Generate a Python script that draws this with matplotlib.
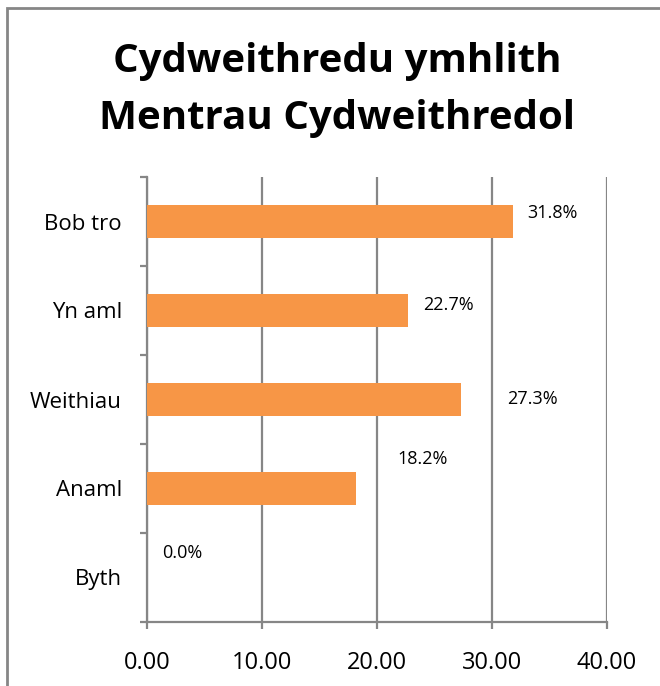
import matplotlib
matplotlib.use("Agg")
import matplotlib.pyplot as plt
from matplotlib.patches import Rectangle

categories = ["Bob tro", "Yn aml", "Weithiau", "Anaml", "Byth"]
values = [31.8, 22.7, 27.3, 18.2, 0.0]
xticks = [0, 10, 20, 30, 40]
title = "Cydweithredu ymhlith\nMentrau Cydweithredol"

# label offsets (pixels) mimicking Excel placement
label_offsets = [(15, 9), (15, 6), (46, 0), (41, 30), (15, 24)]

plt.rcParams['font.family'] = ['Open Sans', 'DejaVu Sans']

W, H = 660, 686
fig = plt.figure(figsize=(W / 100, H / 100), dpi=100)
ax = fig.add_axes([147 / W, 1 - 622 / H, 460 / W, 445 / H])

grid_c = "#868686"
bar_c = "#F79646"

ypos = list(range(len(categories)))
ax.barh(ypos, values, height=0.38, color=bar_c, zorder=3)
ax.set_ylim(len(categories) - 0.5, -0.5)
ax.set_xlim(0, 40)

ax.set_xticks(xticks)
ax.set_xticklabels([f"{v:.2f}" for v in xticks], fontsize=17)
ax.set_yticks(ypos)
ax.set_yticklabels(categories, fontsize=16)
ax.set_yticks([i - 0.5 for i in range(len(categories) + 1)], minor=True)
ax.tick_params(axis='y', which='major', length=0, pad=18)
ax.tick_params(axis='y', which='minor', length=5, width=1.6, color=grid_c)
ax.tick_params(axis='x', which='major', length=5, width=1.6, color=grid_c, pad=16)

ax.grid(axis='x', color=grid_c, linewidth=1.6, zorder=0)
for s in ['top', 'right']:
    ax.spines[s].set_visible(False)
for s in ['left', 'bottom']:
    ax.spines[s].set_color(grid_c)
    ax.spines[s].set_linewidth(1.6)

for i, (v, off) in enumerate(zip(values, label_offsets)):
    ax.annotate(f"{v:.1f}%", xy=(v, i), xytext=(off[0] * 0.72, off[1] * 0.72),
                textcoords='offset points', ha='left', va='center', fontsize=13)

fig.text(337 / W, 1 - 90 / H, title, ha='center', va='center', fontsize=29,
         fontweight='bold', linespacing=1.6)

fig.patches.append(Rectangle((7 / W, -0.1), 1.2, 1.1 - 8 / H, transform=fig.transFigure,
                             fill=False, edgecolor=grid_c, linewidth=2, clip_on=False))

fig.savefig("out.png", dpi=100)
